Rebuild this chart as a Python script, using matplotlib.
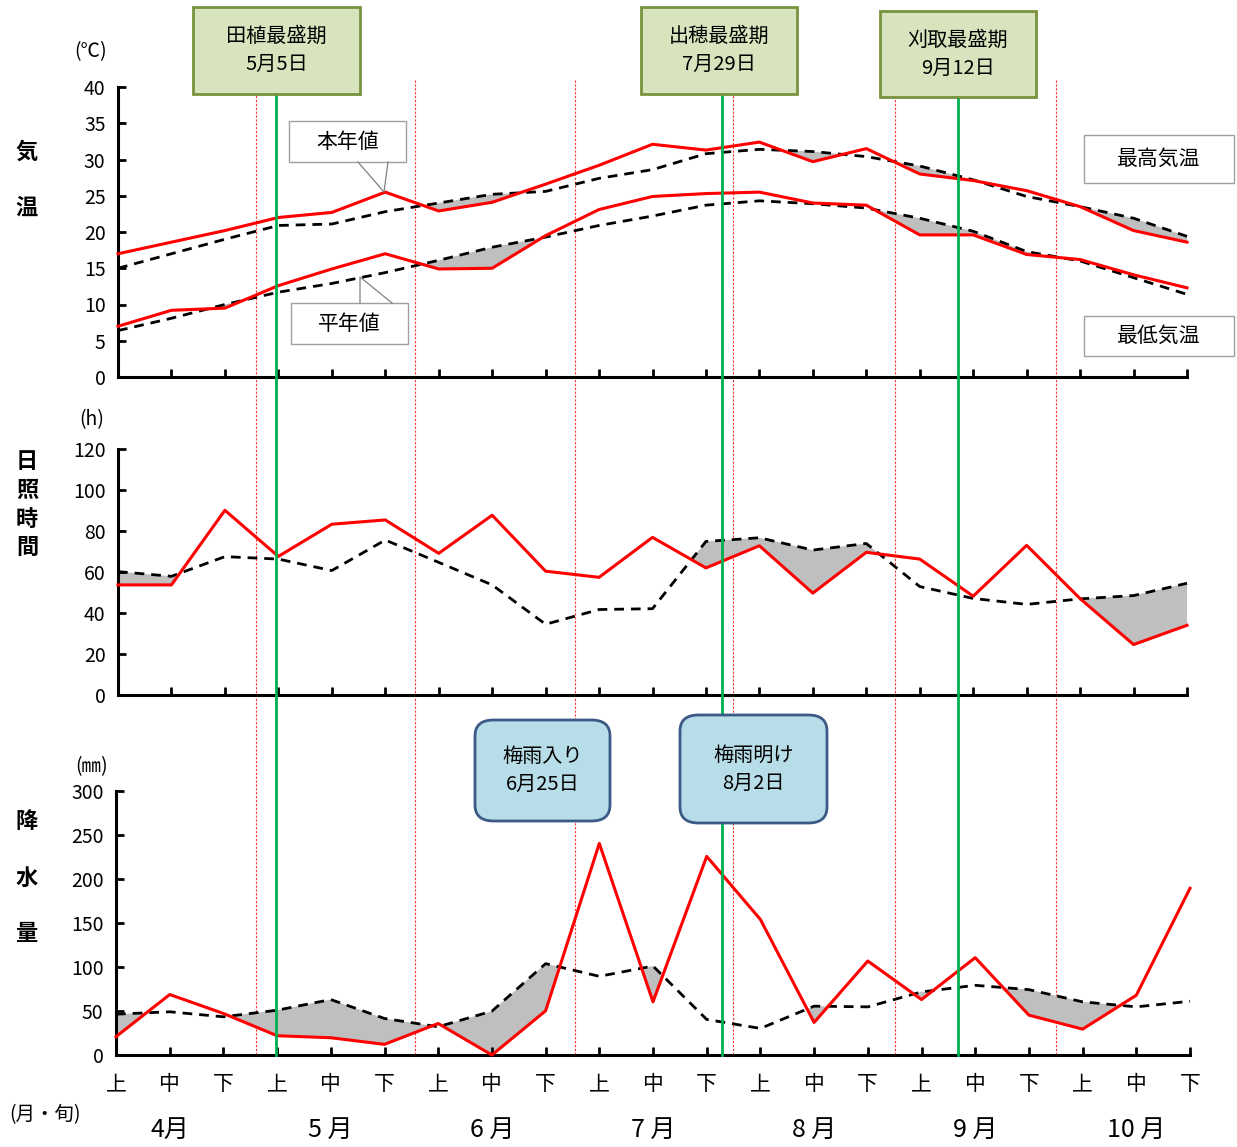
import numpy as np
import matplotlib
matplotlib.use("Agg")
import matplotlib.pyplot as plt
from matplotlib.lines import Line2D
from matplotlib.patches import FancyBboxPatch

plt.rcParams["font.family"] = ["Noto Sans CJK JP", "DejaVu Sans"]

# ---- data (21 dekads: Apr 上 ... Oct 下) ----
dekad_labels = ["上", "中", "下"] * 7
month_labels = ["4月", "5 月", "6 月", "7 月", "8 月", "9 月", "10 月"]

tmax_now = [17.0, 18.6, 20.2, 22.0, 22.7, 25.5, 22.9, 24.1, 26.6, 29.2, 32.1,
            31.3, 32.4, 29.7, 31.5, 28.0, 27.1, 25.7, 23.5, 20.2, 18.6]
tmax_norm = [15.0, 17.0, 19.0, 20.9, 21.1, 22.8, 24.0, 25.2, 25.6, 27.4, 28.6,
             30.8, 31.4, 31.1, 30.4, 29.1, 27.2, 24.9, 23.5, 21.9, 19.4]
tmin_now = [7.0, 9.2, 9.5, 12.6, 14.9, 17.0, 14.9, 15.0, 19.5, 23.1, 24.9,
            25.3, 25.5, 24.0, 23.7, 19.6, 19.6, 16.9, 16.2, 14.1, 12.3]
tmin_norm = [6.4, 8.1, 10.0, 11.7, 12.9, 14.4, 16.1, 17.9, 19.3, 20.9, 22.2,
             23.7, 24.3, 23.9, 23.3, 21.9, 20.1, 17.3, 16.0, 13.7, 11.4]

sun_now = [53.7, 53.7, 90.1, 67.6, 83.3, 85.4, 69.1, 87.7, 60.4, 57.4, 76.9,
           62.0, 72.8, 49.7, 69.6, 66.3, 48.2, 73.0, 47.0, 24.6, 34.0]
sun_norm = [60.2, 57.9, 67.5, 66.3, 60.7, 75.6, 64.7, 53.7, 34.5, 41.7, 42.1,
            74.9, 76.7, 70.7, 73.9, 52.9, 47.1, 44.2, 46.9, 48.5, 54.5]

rain_now = [20.8, 68.7, 47.2, 21.9, 19.6, 12.1, 35.8, 0.0, 50.2, 240.4, 60.4,
            225.7, 154.0, 37.0, 106.8, 63.0, 110.6, 45.3, 29.4, 67.9, 189.4]
rain_norm = [46.4, 49.1, 43.4, 50.9, 63.0, 41.5, 32.1, 49.8, 103.8, 89.4, 101.1,
             40.4, 30.2, 55.5, 54.7, 71.7, 79.2, 74.3, 60.4, 54.7, 61.1]

# events in dekad units
month_bounds = [2.58, 5.56, 8.55, 11.5, 14.54, 17.55]
stage_pos = [2.96, 11.30, 15.72]
stage_text = ["田植最盛期\n5月5日", "出穂最盛期\n7月29日", "刈取最盛期\n9月12日"]
rain_text = ["梅雨入り\n6月25日", "梅雨明け\n8月2日"]

W, H = 1237, 1147
fig = plt.figure(figsize=(W / 100, H / 100), dpi=100)


def fx(px):
    return px / W


def fy(py):
    return 1 - py / H


x = np.arange(len(dekad_labels))


def make_ax(left, top, right, bottom, ymax, step):
    ax = fig.add_axes([fx(left), fy(bottom), fx(right) - fx(left), fy(top) - fy(bottom)])
    ax.patch.set_visible(False)
    ax.set_xlim(0, 20)
    ax.set_ylim(0, ymax)
    ax.set_yticks(np.arange(0, ymax + 1, step))
    ax.set_xticks(x)
    ax.set_xticklabels([])
    for s in ["top", "right"]:
        ax.spines[s].set_visible(False)
    for s in ["left", "bottom"]:
        ax.spines[s].set_linewidth(2.2)
        ax.spines[s].set_clip_on(False)
    ax.tick_params(direction="in", length=6, width=2, labelsize=14, pad=9)
    return ax


def draw_pair(ax, now, norm):
    now = np.array(now)
    norm = np.array(norm)
    ax.fill_between(x, now, norm, where=now < norm, interpolate=True,
                    color="#bfbfbf", lw=0, zorder=1)
    ax.plot(x, norm, color="black", lw=2, ls=(0, (3.5, 2.5)), zorder=2, clip_on=False)
    ax.plot(x, now, color="#ff0000", lw=2.2, zorder=3, clip_on=False)


ax_t = make_ax(118, 87, 1187, 377, 40, 5)
draw_pair(ax_t, tmax_now, tmax_norm)
draw_pair(ax_t, tmin_now, tmin_norm)

ax_s = make_ax(118, 449, 1187, 695, 120, 20)
draw_pair(ax_s, sun_now, sun_norm)

ax_r = make_ax(116, 791, 1190, 1055, 300, 50)
draw_pair(ax_r, rain_now, rain_norm)
ax_r.set_xticklabels(dekad_labels, fontsize=15)
ax_r.tick_params(axis="x", pad=13)

# month labels
for k, m in enumerate(month_labels):
    xd = 1 + 3 * k
    xp = ax_r.transData.transform((xd, 0))[0]
    fig.text(xp / W, fy(1130), m, ha="center", va="center", fontsize=18)
fig.text(fx(45), fy(1115), "(月・旬)", ha="center", va="center", fontsize=14)

# units and axis titles
fig.text(fx(91), fy(52), "(℃)", ha="center", va="center", fontsize=14)
fig.text(fx(92), fy(420), "(h)", ha="center", va="center", fontsize=14)
fig.text(fx(92), fy(767), "(㎜)", ha="center", va="center", fontsize=14)
for ch, yy in zip("気温", [152, 208]):
    fig.text(fx(27), fy(yy), ch, ha="center", va="center", fontsize=16, fontweight="bold")
for ch, yy in zip("日照時間", [462, 490, 519, 547]):
    fig.text(fx(27), fy(yy), ch, ha="center", va="center", fontsize=16, fontweight="bold")
for ch, yy in zip("降水量", [822, 878, 934]):
    fig.text(fx(27), fy(yy), ch, ha="center", va="center", fontsize=16, fontweight="bold")

to_fig = fig.transFigure.inverted()


def data_xf(xd):
    return to_fig.transform(ax_t.transData.transform((xd, 0)))[0]


# month boundary dotted lines
for b in month_bounds:
    xf = data_xf(b)
    fig.add_artist(Line2D([xf, xf], [fy(80), fy(1055)], transform=fig.transFigure,
                          color="#ff3030", lw=0.8, ls=(0, (2, 1.5)), zorder=-1))

# stage lines and boxes
stage_boxes = [(193, 7, 360, 94), (641, 7, 797, 94), (880, 11, 1036, 97)]
for pos, txt, (x0, y0, x1, y1) in zip(stage_pos, stage_text, stage_boxes):
    xf = data_xf(pos)
    fig.add_artist(Line2D([xf, xf], [fy(y1), fy(1055)], transform=fig.transFigure,
                          color="#00b050", lw=2, zorder=3))
    fig.add_artist(FancyBboxPatch((fx(x0), fy(y1)), fx(x1) - fx(x0), fy(y0) - fy(y1),
                                  boxstyle="square,pad=0", transform=fig.transFigure,
                                  facecolor="#d7e4bd", edgecolor="#77933c", lw=2, zorder=4))
    fig.text(fx((x0 + x1) / 2), fy((y0 + y1) / 2), txt, ha="center", va="center",
             fontsize=14.5, linespacing=1.45, zorder=5)

rain_boxes = [(475, 720, 610, 821), (680, 715, 827, 823)]
for txt, (x0, y0, x1, y1) in zip(rain_text, rain_boxes):
    fig.add_artist(FancyBboxPatch((fx(x0), fy(y1)), fx(x1) - fx(x0), fy(y0) - fy(y1),
                                  boxstyle="round,pad=0,rounding_size=0.015",
                                  transform=fig.transFigure, mutation_aspect=H / W,
                                  facecolor="#b7dde8", edgecolor="#3b5a85", lw=2, zorder=4))
    fig.text(fx((x0 + x1) / 2), fy((y0 + y1) / 2), txt, ha="center", va="center",
             fontsize=14.5, linespacing=1.45, zorder=5)

# callouts and legend boxes
plain_boxes = [(289, 121, 406, 162, "本年値"), (291, 303, 408, 344, "平年値"),
               (1084, 135, 1234, 183, "最高気温"), (1084, 316, 1234, 356, "最低気温")]
for x0, y0, x1, y1, txt in plain_boxes:
    fig.add_artist(FancyBboxPatch((fx(x0), fy(y1)), fx(x1) - fx(x0), fy(y0) - fy(y1),
                                  boxstyle="square,pad=0", transform=fig.transFigure,
                                  facecolor="white", edgecolor="#a0a0a0", lw=1, zorder=4))
    fig.text(fx((x0 + x1) / 2), fy((y0 + y1) / 2), txt, ha="center", va="center",
             fontsize=15, zorder=5)

fig.add_artist(Line2D([fx(358), fx(384), fx(388)], [fy(162), fy(192), fy(162)],
                      transform=fig.transFigure, color="#808080", lw=0.9, zorder=4))
fig.add_artist(Line2D([fx(360), fx(360), fx(392)], [fy(303), fy(277), fy(303)],
                      transform=fig.transFigure, color="#808080", lw=0.9, zorder=4))

fig.savefig("out.png", dpi=100)
